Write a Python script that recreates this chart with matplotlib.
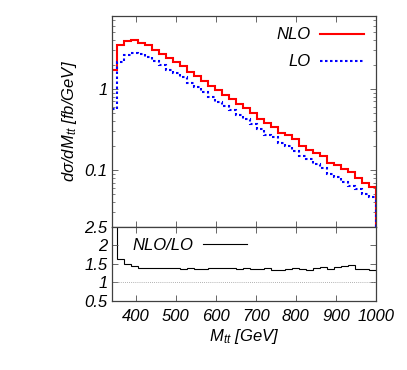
import numpy as np
import matplotlib
matplotlib.use("Agg")
import matplotlib.pyplot as plt
from matplotlib.ticker import FixedLocator, NullFormatter

plt.rcParams['font.family'] = ['Liberation Sans', 'DejaVu Sans']
plt.rcParams['font.style'] = 'italic'
plt.rcParams['mathtext.fontset'] = 'custom'
plt.rcParams['mathtext.it'] = 'Liberation Sans:italic'
plt.rcParams['mathtext.rm'] = 'Liberation Sans:italic'

# bin edges in GeV (first partial bin, then 17.5 GeV bins)
edges = [340.0] + list(np.linspace(352.5, 1000.0, 38))

nlo = [1.69, 3.44, 3.90, 3.97, 3.72, 3.44, 3.01, 2.72, 2.40, 2.14,
       1.91, 1.64, 1.44, 1.25, 1.10, 0.97, 0.85, 0.76, 0.65, 0.58,
       0.50, 0.43, 0.38, 0.34, 0.29, 0.267, 0.238, 0.200, 0.179, 0.163,
       0.151, 0.123, 0.115, 0.103, 0.094, 0.080, 0.069, 0.061]

lo = [0.56, 2.12, 2.62, 2.76, 2.66, 2.46, 2.18, 1.97, 1.73, 1.55,
      1.41, 1.19, 1.05, 0.926, 0.797, 0.693, 0.612, 0.551, 0.474, 0.420,
      0.365, 0.319, 0.273, 0.256, 0.218, 0.195, 0.171, 0.148, 0.135, 0.117,
      0.106, 0.090, 0.081, 0.0715, 0.0644, 0.0584, 0.0511, 0.0459]

ratio = [3.0, 1.62, 1.49, 1.44, 1.40, 1.40, 1.38, 1.38, 1.39, 1.38,
         1.35, 1.38, 1.37, 1.35, 1.38, 1.40, 1.39, 1.38, 1.37, 1.38,
         1.37, 1.35, 1.39, 1.33, 1.33, 1.37, 1.39, 1.35, 1.33, 1.39,
         1.42, 1.37, 1.42, 1.44, 1.46, 1.37, 1.35, 1.33]

xticks = [400, 500, 600, 700, 800, 900, 1000]
ratio_ticks = [0.5, 1, 1.5, 2, 2.5]
ratio_ticklabels = ['0.5', '1', '1.5', '2', '2.5']

FS = 12
YMIN, YMAX = 0.02, 8.0

fig = plt.figure(figsize=(4.07, 3.70), dpi=100)
ax = fig.add_axes([0.2745, 0.3873, 0.6493, 0.5703])
axr = fig.add_axes([0.2745, 0.1865, 0.6493, 0.2008], sharex=ax)

red = '#ff0000'
blue = '#0000ff'

ax.stairs(nlo, edges, baseline=None, color=red, lw=1.5, label='NLO')
ax.vlines(edges[-1], YMIN, nlo[-1], color=red, lw=1.5)
ax.stairs(lo, edges, baseline=None, color=blue, lw=1.5,
          linestyle=(0, (1.2, 1.2)), label='LO')
ax.vlines(edges[-1], YMIN, lo[-1], color=blue, lw=1.5, linestyle=(0, (1.2, 1.2)))

ax.set_yscale('log')
ax.set_ylim(YMIN, YMAX)
ax.set_xlim(340, 1000)
ax.yaxis.set_major_locator(FixedLocator([0.1, 1]))
ax.set_yticklabels(['0.1', '1'])
minors = [m * d for d in (0.01, 0.1, 1) for m in range(2, 10)]
ax.yaxis.set_minor_locator(FixedLocator(minors))
ax.yaxis.set_minor_formatter(NullFormatter())
ax.set_xticks(xticks)
ax.tick_params(axis='x', labelbottom=False)
ax.set_ylabel('d\u03c3/dM$_{tt}$ [fb/GeV]', fontsize=FS, labelpad=4)

leg = ax.legend(loc='upper right', frameon=False, markerfirst=False,
                fontsize=FS, handlelength=2.65, handletextpad=0.6,
                labelspacing=0.72, borderaxespad=0.3)

axr.stairs(ratio, edges, baseline=None, color='black', lw=0.8, label='NLO/LO')
axr.axhline(1.0, color='0.6', lw=0.6, linestyle=(0, (1, 1.5)))
axr.set_ylim(0.5, 2.5)
axr.set_yticks(ratio_ticks)
axr.set_yticklabels(ratio_ticklabels)
axr.set_xticks(xticks)
axr.set_xticklabels([str(v) for v in xticks])
axr.set_xlabel('M$_{tt}$ [GeV]', fontsize=FS, labelpad=2)
axr.legend(loc='upper left', bbox_to_anchor=(0.077, 0.85), frameon=False,
           markerfirst=False, fontsize=FS, handlelength=2.65,
           handletextpad=0.6, borderaxespad=0.0, borderpad=0.0)

for a in (ax, axr):
    a.tick_params(which='both', direction='in', top=True, right=True,
                  labelsize=FS, color='0.3')
    a.tick_params(which='major', length=4.5, width=0.6)
    a.tick_params(which='minor', length=2.5, width=0.5)
    for s in a.spines.values():
        s.set_color('0.25')
        s.set_linewidth(0.9)
    a.tick_params(axis='y', pad=3)
    a.tick_params(axis='x', pad=6)

fig.savefig('out.png', dpi=100)
